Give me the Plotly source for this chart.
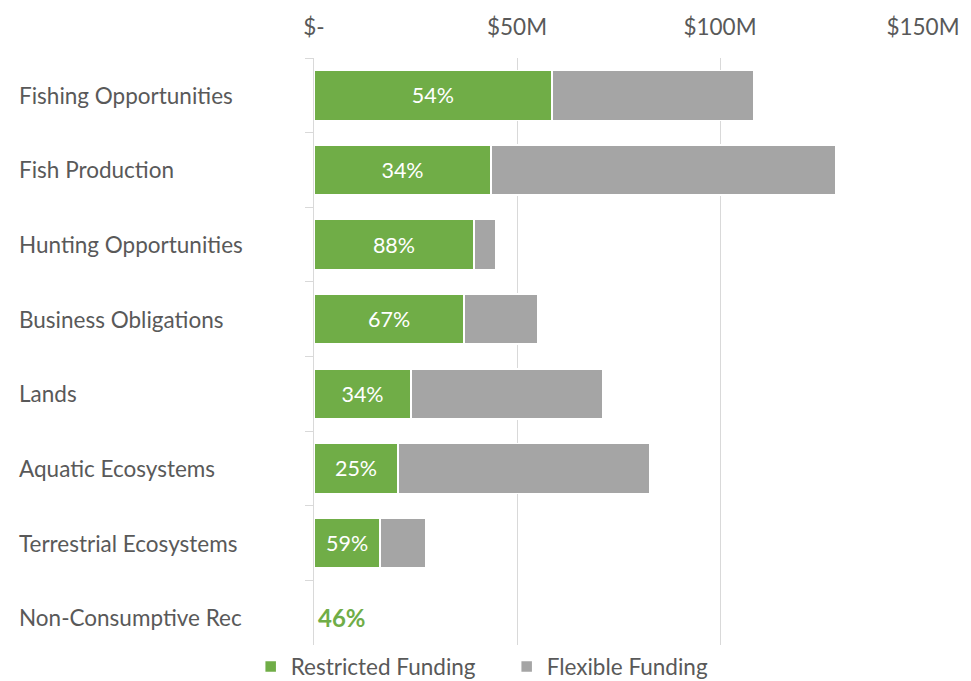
import plotly.graph_objects as go

categories = [
    "Fishing Opportunities",
    "Fish Production",
    "Hunting Opportunities",
    "Business Obligations",
    "Lands",
    "Aquatic Ecosystems",
    "Terrestrial Ecosystems",
    "Non-Consumptive Rec",
]
# funding in $M
restricted = [58.6, 43.6, 39.4, 37.0, 23.9, 20.7, 16.3, 0.1]
flexible = [49.8, 84.8, 5.4, 18.0, 47.1, 61.9, 11.3, 0.1]
share_labels = ["54%", "34%", "88%", "67%", "34%", "25%", "59%", "46%"]

tick_vals = [0, 50, 100, 150]
tick_text = ["$-", "$50M", "$100M", "$150M"]

GREEN = "#70AD47"
GRAY = "#A5A5A5"
FONT = "Lato"

inside_text = [t if i < len(categories) - 1 else "" for i, t in enumerate(share_labels)]

fig = go.Figure()
fig.add_trace(go.Bar(
    y=categories, x=restricted, orientation="h", name="Restricted Funding",
    marker=dict(color=GREEN, line=dict(color="white", width=1.5)),
    text=inside_text, textposition="inside", insidetextanchor="middle",
    textfont=dict(color="white", size=21.5, family=FONT),
    hoverinfo="x+y",
))
fig.add_trace(go.Bar(
    y=categories, x=flexible, orientation="h", name="Flexible Funding",
    marker=dict(color=GRAY, line=dict(color="white", width=1.5)),
    hoverinfo="x+y",
))

# category labels, left aligned
for c in categories:
    fig.add_annotation(x=-0.488, xref="paper", y=c, yref="y", text=c,
                       showarrow=False, xanchor="left",
                       font=dict(size=22.5, color="#595959", family=FONT))

# last category gets its label next to the (near-zero) bar
fig.add_annotation(x=restricted[-1] + flexible[-1], y=categories[-1], text="<b>" + share_labels[-1] + "</b>",
                   showarrow=False, xanchor="left", xshift=1,
                   font=dict(size=24, color=GREEN, family=FONT))

# page body has an 8px margin, so the figure is sized to fill the rest of the window
fig.update_layout(
    barmode="stack",
    bargap=0.33,
    width=963, height=673,
    margin=dict(l=306, r=48, t=50, b=26, autoexpand=False),
    plot_bgcolor="white", paper_bgcolor="white",
    font=dict(family=FONT, color="#595959", size=22.5),
    xaxis=dict(
        side="top", range=[0, 150], tickvals=tick_vals, ticktext=tick_text,
        showgrid=True, gridcolor="#D9D9D9", gridwidth=1, zeroline=False,
        showline=False, ticks="", ticklabelstandoff=18, automargin=False,
        tickfont=dict(size=22.5, color="#595959", family=FONT),
    ),
    yaxis=dict(
        autorange="reversed", showticklabels=False, automargin=False,
        showline=True, linecolor="#D9D9D9", linewidth=1,
        ticks="outside", tickson="boundaries", ticklen=8, tickcolor="#D9D9D9",
        showgrid=False, zeroline=False,
    ),
    legend=dict(orientation="h", xref="container", yref="container",
                x=0.252, xanchor="left", y=0.021, yanchor="middle",
                font=dict(size=22.5, color="#595959", family=FONT),
                itemwidth=30, entrywidth=211, traceorder="normal"),
    showlegend=True,
)

fig.write_html("out.html")
